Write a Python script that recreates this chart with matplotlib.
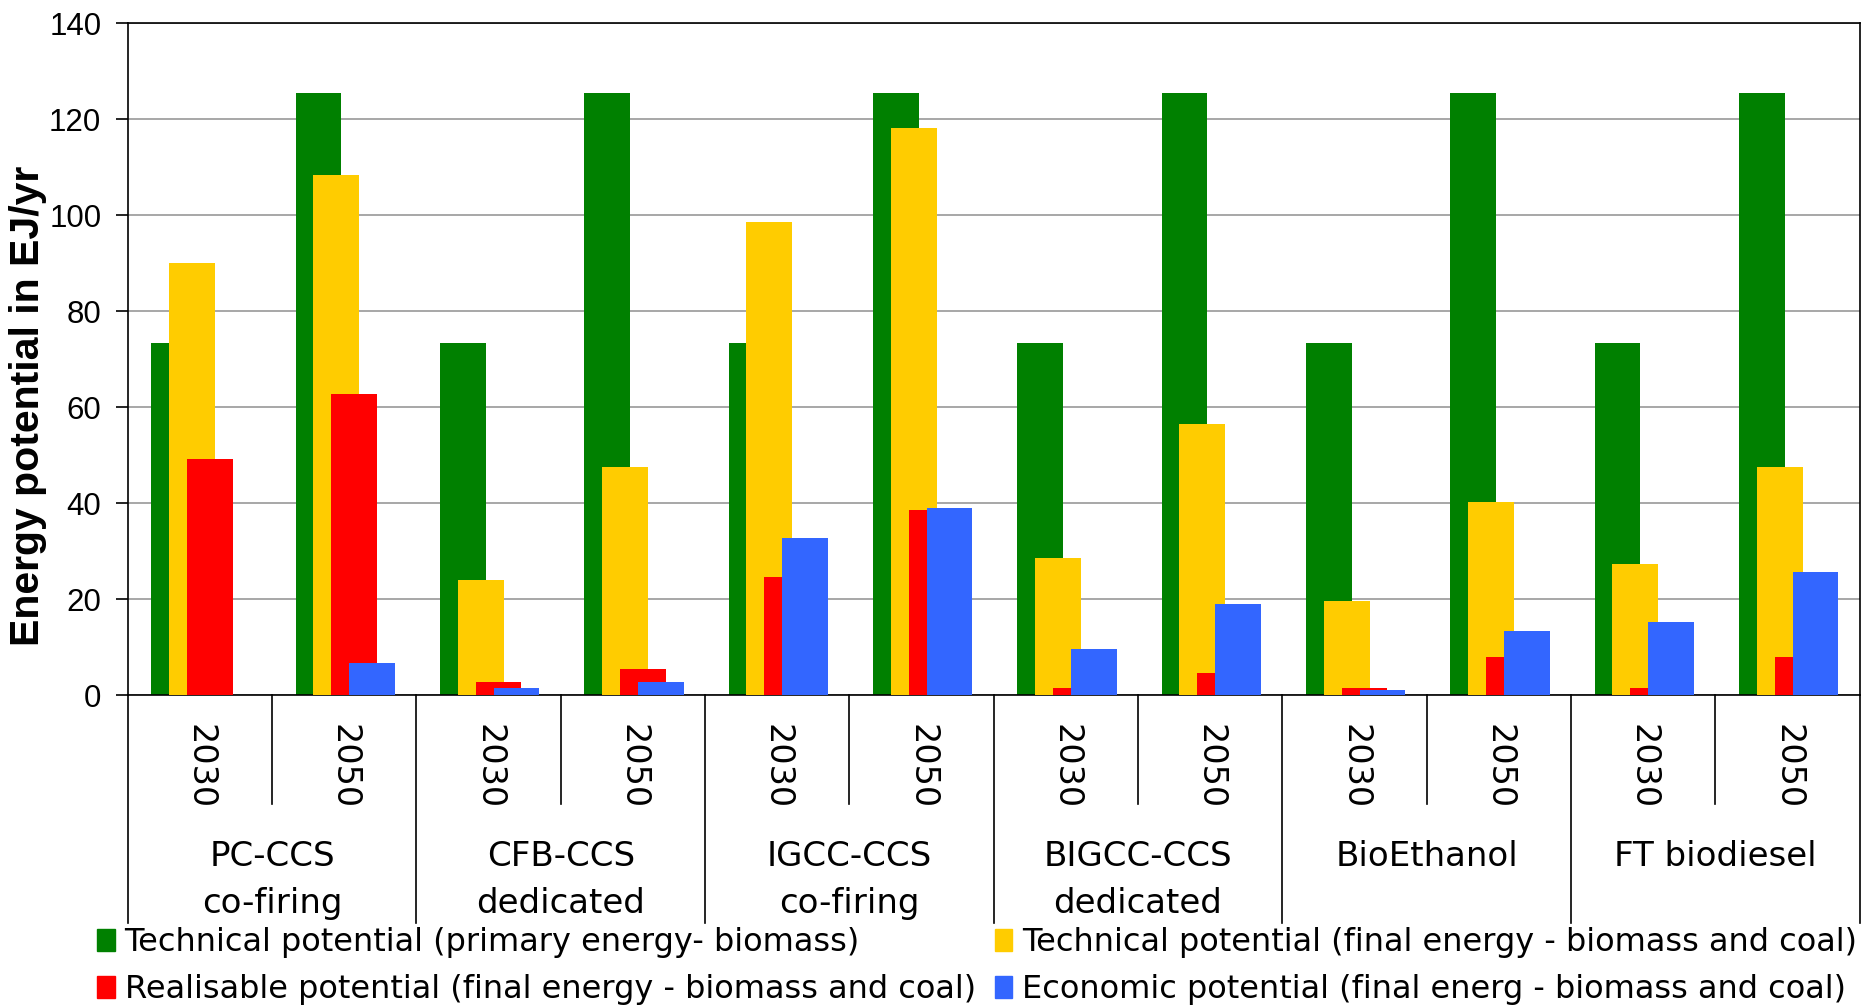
import matplotlib.pyplot as plt
import numpy as np
from matplotlib.patches import Patch

# energy potentials in EJ/yr, one value per technology/year slot
technologies = ["PC-CCS\nco-firing", "CFB-CCS\ndedicated", "IGCC-CCS\nco-firing",
                "BIGCC-CCS\ndedicated", "BioEthanol", "FT biodiesel"]
years = ["2030", "2050"]

tech_primary = [73.4, 125.4, 73.4, 125.4, 73.4, 125.4, 73.4, 125.4, 73.4, 125.4, 73.4, 125.4]
tech_final = [90.0, 108.4, 23.9, 47.5, 98.5, 118.1, 28.6, 56.5, 19.6, 40.3, 27.4, 47.5]
realisable = [49.2, 62.7, 2.7, 5.5, 24.6, 38.5, 1.5, 4.5, 1.5, 8.0, 1.5, 8.0]
economic = [0.0, 6.7, 1.5, 2.7, 32.8, 39.0, 9.5, 18.9, 1.0, 13.4, 15.2, 25.6]

series = [
    ("Technical potential (primary energy- biomass)", tech_primary, "#008000"),
    ("Technical potential (final energy - biomass and coal)", tech_final, "#FFCC00"),
    ("Realisable potential (final energy - biomass and coal)", realisable, "#FF0000"),
    ("Economic potential (final energ - biomass and coal)", economic, "#3366FF"),
]

fig = plt.figure(figsize=(18.73, 10.08), dpi=100)
ax = fig.add_axes([0.0682, 0.3105, 0.9247, 0.6665])

n = len(technologies) * len(years)
x = np.arange(n) + 0.5
width = 0.317
step = 0.124

for k, (name, vals, col) in enumerate(series):
    ax.bar(x - 0.1785 + k * step, vals, width=width, color=col, zorder=2 + k)

ax.set_xlim(0, n)
ax.set_ylim(0, 140)
ax.set_yticks(np.arange(0, 141, 20))
ax.yaxis.grid(True, color="#a0a0a0", lw=1.3, zorder=0)
ax.set_axisbelow(True)
ax.set_xticks([])
ax.tick_params(axis="y", direction="out", length=9, width=1.2, pad=10)
for lab in ax.get_yticklabels():
    lab.set_family("Liberation Sans")
    lab.set_fontsize(22.5)
for s in ax.spines.values():
    s.set_color("black")
    s.set_linewidth(1.2)

fig.text(0.0152, 0.597, "Energy potential in EJ/yr", rotation=90, ha="center", va="center",
         fontsize=29.5, fontweight="bold", family="Liberation Sans")

# two-level category axis below the plot
tr = ax.get_xaxis_transform()
for i in range(n + 1):
    depth = -0.339 if i % 2 == 0 else -0.162
    ax.plot([i, i], [0, depth], transform=tr, color="black", lw=1.2, clip_on=False)
for i in range(n):
    ax.text(i + 0.5, -0.106, years[i % 2], transform=tr, rotation=270,
            ha="center", va="center", fontsize=24, family="DejaVu Sans")
for j, name in enumerate(technologies):
    for r, line in enumerate(name.split("\n")):
        ax.text(2 * j + 1, -0.241 - r * 0.07, line, transform=tr,
                ha="center", va="center", fontsize=24.5, family="DejaVu Sans")

handles = [Patch(color=c, label=lab) for lab, _, c in series]
order = [0, 2, 1, 3]
fig.legend([handles[i] for i in order], [series[i][0] for i in order],
           ncol=2, loc="upper left", bbox_to_anchor=(0.052, 0.08),
           frameon=False, borderpad=0, borderaxespad=0,
           handlelength=0.55, handleheight=0.7, handletextpad=0.3,
           columnspacing=0.6, labelspacing=0.5,
           prop={"family": "DejaVu Sans", "size": 23})

fig.savefig("out.png", dpi=100)
